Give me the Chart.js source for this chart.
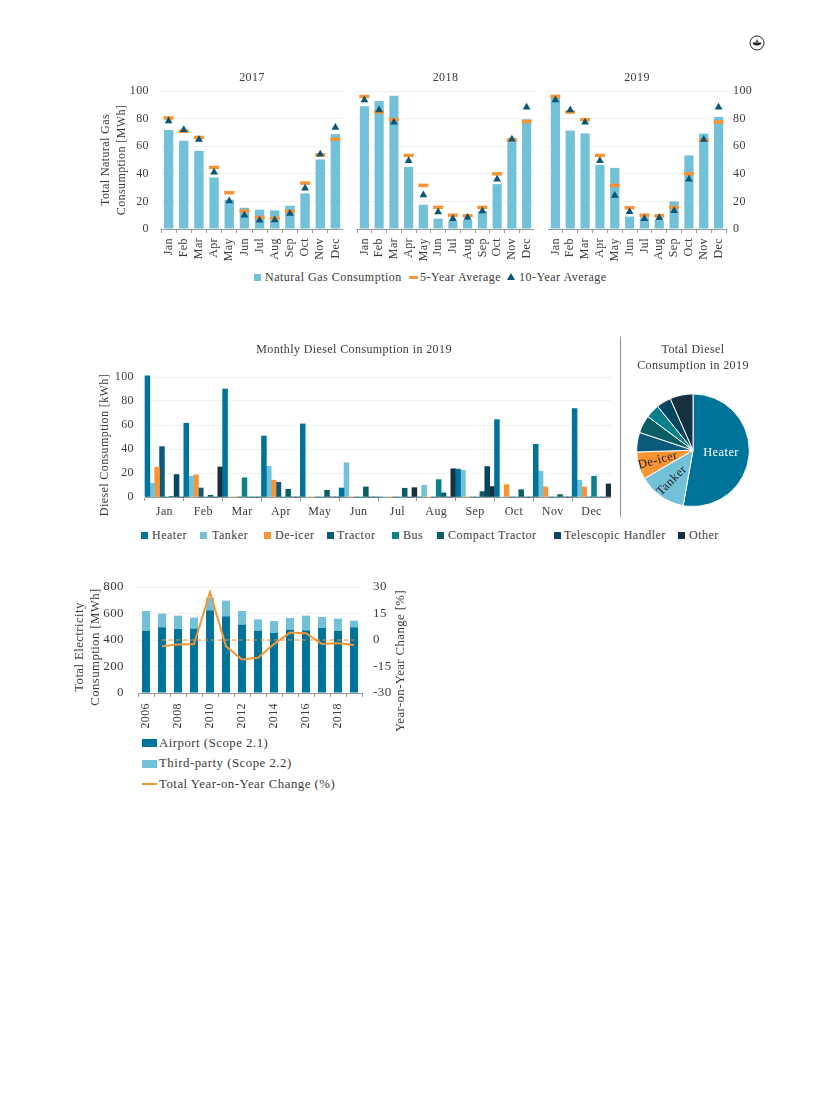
<!DOCTYPE html>
<html>
<head>
<meta charset="utf-8">
<title>Energy consumption charts</title>
<script src="https://cdn.jsdelivr.net/npm/chart.js@4"></script>
<style>
body { margin: 0; background: #fff; }
#page { position: relative; width: 825px; height: 1100px; overflow: hidden;
  font-family: "Liberation Serif", serif; color: #3a3a3a; letter-spacing: .5px; }
canvas { position: absolute; }
.t { position: absolute; white-space: nowrap; font-size: 12px; line-height: 14px; }
.swatch { position: absolute; }
#divider { position: absolute; left: 620px; top: 337px; width: 1px; height: 180px; background: #8f8f8f; }
#logo { position: absolute; left: 749px; top: 35px; }
</style>
</head>
<body>
<div id="page">
  <svg id="logo" width="16" height="16" viewBox="0 0 16 16">
    <circle cx="8" cy="8" r="7" fill="none" stroke="#222" stroke-width="1"/>
    <path d="M3.5 7.5h9c-.4 2.2-2 3-4.5 3s-4.100-.8-4.500-3z" fill="#222"/>
    <path d="M8 4.500v3M6.500 7l1.500-1.500 1.500 1.500" stroke="#222" stroke-width=".8" fill="none"/>
  </svg>
  <canvas id="gas2017" width="248" height="191" style="left:95px;top:71px"></canvas>
  <canvas id="gas2018" width="177" height="191" style="left:357px;top:71px"></canvas>
  <canvas id="gas2019" width="222" height="191" style="left:548px;top:71px"></canvas>
  <canvas id="dieselBars" width="514" height="178" style="left:97px;top:343px"></canvas>
  <div id="divider"></div>
  <canvas id="dieselPie" width="144" height="165" style="left:621px;top:342px"></canvas>
  <canvas id="electricity" width="345" height="160" style="left:65px;top:574px"></canvas>
</div>
<script>
const months = ['Jan','Feb','Mar','Apr','May','Jun','Jul','Aug','Sep','Oct','Nov','Dec'];

const gas2017 = [71.8,63.9,56.6,37.3,21.2,15.4,14,13.5,16.9,25.8,50.4,68.7];
const avg5y2017 = [80.5,70.8,66.3,44.6,26.3,13,8.4,7.7,12.8,33.3,53.7,65];
const avg10y2017 = [78.3,72,64.8,41.2,20.2,10,6.3,6.5,11.3,29.6,54.2,73.5];

const gas2018 = [89,92.8,96.6,45,17.6,7.5,5.8,6.7,12.8,32.5,64.6,79.5];
const avg5y2018 = [96,84.8,79.3,53.3,31.6,15.7,10,9.6,15.7,40,64.6,77.8];
const avg10y2018 = [93.5,86.3,77.3,49.4,24.6,12.3,7.5,8.4,13,36,65,88.2];

const gas2019 = [96,71.3,69.2,46.5,44.3,9,8.4,6.5,20,53.3,69.2,81.2];
const avg5y2019 = [96.1,84.8,79.3,53.3,31.6,15.4,10,9.6,15.7,40,64.3,77.6];
const avg10y2019 = [93.5,86.3,77.3,49.4,24.3,12.5,7.5,8.2,13.3,36,64.8,88.2];

const heater = [101,61.5,90,50.8,60.9,7.5,0,0,23.2,64.5,43.9,73.7];
const tanker = [11.5,17.3,0,25.7,0,28.5,0,9.8,22.3,0,21.5,14];
const deicer = [24.9,18.4,0,14,0,0,0,0,0,10.3,8.4,8.4];
const tractor = [42,7.5,0,12.3,0,0,0,0,0,0,0,0];
const bus = [0,0,16,0,0,0,0,14.5,0,0,0,17.3];
const compactTractor = [0.5,1.4,0,6.4,5.6,8.4,7.3,3.4,4.5,6.1,2,0];
const telescopicHandler = [18.7,0,0,0,0,0,0,0,25.4,0,0,0];
const otherDiesel = [0,25,0,0,0,0,7.8,23.5,8.7,0,0,10.9];

const pieLabels = ['Heater','Tanker','De-icer','Tractor','Compact Tractor','Bus','Telescopic Handler','Other'];
const pieShares = [52.8,13.8,7.9,5.6,5.1,4,4.2,6.6];

const years = ['2006','2007','2008','2009','2010','2011','2012','2013','2014','2015','2016','2017','2018','2019'];
const airport = [470,496,483,486,624,579,516,470,453,478,473,491,468,496];
const thirdParty = [149,103,101,83,96,118,103,86,90,88,111,83,93,50];
const yoyChange = [null,-3.6,-2.5,-2.3,27,-3.6,-11,-10,-2.3,4.2,3.8,-2.3,-1.9,-2.8];
const yoyZero = [null,0,0,0,0,0,0,0,0,0,0,0,0,0];

const BLUE = '#00739a', LIGHT = '#73c1d8', ORANGE = '#f79433', TRACTOR = '#0b5a7c',
  BUS = '#0a8088', COMPACT = '#075f65', TELE = '#04465f', OTHER = '#17303f', TRIANGLE = '#0b5677';
const FONT = 'Liberation Serif';
const TEXT = '#3a3a3a';

Chart.defaults.font.family = FONT;
Chart.defaults.font.size = 12;
Chart.defaults.color = TEXT;
Chart.defaults.animation = false;
Chart.defaults.responsive = false;
Chart.defaults.layout.autoPadding = false;
Chart.defaults.plugins.legend.display = false;
Chart.defaults.plugins.tooltip.enabled = false;

// computer modern runs wider than the installed serif
Chart.register({ id: 'spacing', beforeDraw(c) { c.ctx.letterSpacing = '0.4px'; } });

// keeps the plot area where the reference has it
function fixSize(prop, size) {
  return function (s) {
    s[prop] = size;
    s.paddingTop = s.paddingBottom = s.paddingLeft = s.paddingRight = 0;
  };
}

function xAxis(height, rotate, pad) {
  return {
    afterFit: fixSize('height', height),
    grid: { offset: true, drawOnChartArea: false, tickLength: 4, color: '#9a9a9a' },
    border: { color: '#9a9a9a' },
    ticks: { autoSkip: false, padding: pad, minRotation: rotate, maxRotation: rotate }
  };
}

// axis titles here are centred on the whole figure, not on the axis, and always
// read upwards, which scale titles can't do
function sideTitles(items) {
  return {
    id: 'sideTitles',
    afterDraw(chart) {
      const ctx = chart.ctx;
      items.forEach(function (it) {
        ctx.save();
        ctx.translate(it.x, it.y);
        ctx.rotate(-Math.PI / 2);
        ctx.font = it.size + 'px "' + FONT + '"';
        ctx.fillStyle = TEXT;
        ctx.textAlign = 'center';
        ctx.textBaseline = 'middle';
        ctx.fillText(it.text, 0, 0);
        ctx.restore();
      });
    }
  };
}

function gasPanel(id, year, bars, avg5, avg10, side) {
  const y = {
    min: 0, max: 100,
    position: side === 'right' ? 'right' : 'left',
    afterFit: fixSize('width', side === 'left' ? 66 : side === 'right' ? 44 : 0),
    grid: { color: '#f0f0f0', drawTicks: false },
    border: { display: false },
    ticks: { stepSize: 20, padding: 7, display: side !== 'none' }
  };
  if (side === 'left') {
    y.title = { display: true, text: ['Total Natural Gas', 'Consumption [MWh]'], padding: { top: 3, bottom: 0 }, font: { lineHeight: 1.35 } };
    y.ticks.padding = 12;
  }
  new Chart(document.getElementById(id), {
    type: 'bar',
    data: {
      labels: months,
      datasets: [
        { type: 'line', label: '10-Year Average', data: avg10, showLine: false, order: 0, clip: false,
          pointStyle: 'triangle', pointRadius: 4.5, backgroundColor: TRIANGLE, borderColor: TRIANGLE, pointBorderWidth: 0 },
        { type: 'line', label: '5-Year Average', data: avg5, showLine: false, order: 1, clip: false,
          pointStyle: 'line', pointRadius: 5, borderColor: ORANGE, pointBorderColor: ORANGE, pointBorderWidth: 3.5 },
        { label: 'Natural Gas Consumption', data: bars, order: 2, backgroundColor: LIGHT,
          barPercentage: 0.62, categoryPercentage: 1 }
      ]
    },
    options: {
      plugins: { title: { display: true, text: year, fullSize: false, padding: { top: 0, bottom: 5.6 }, font: { weight: 'normal', size: 12 } } },
      scales: { x: xAxis(33, 90, 5), y: y }
    }
  });
}

gasPanel('gas2017', '2017', gas2017, avg5y2017, avg10y2017, 'left');
gasPanel('gas2018', '2018', gas2018, avg5y2018, avg10y2018, 'none');
gasPanel('gas2019', '2019', gas2019, avg5y2019, avg10y2019, 'right');

function dieselSet(label, values, color) {
  return { label: label, data: values, backgroundColor: color, barPercentage: 1, categoryPercentage: 1, clip: false };
}

new Chart(document.getElementById('dieselBars'), {
  type: 'bar',
  data: {
    labels: months,
    datasets: [
      dieselSet('Heater', heater, BLUE),
      dieselSet('Tanker', tanker, LIGHT),
      dieselSet('De-icer', deicer, ORANGE),
      dieselSet('Tractor', tractor, TRACTOR),
      dieselSet('Bus', bus, BUS),
      dieselSet('Compact Tractor', compactTractor, COMPACT),
      dieselSet('Telescopic Handler', telescopicHandler, TELE),
      dieselSet('Other', otherDiesel, OTHER)
    ]
  },
  options: {
    plugins: { title: { display: true, text: 'Monthly Diesel Consumption in 2019', padding: { top: 0, bottom: 19.6 }, font: { weight: 'normal', size: 12 } } },
    scales: {
      x: xAxis(24, 0, 4),
      y: {
        min: 0, max: 100,
        afterFit: fixSize('width', 48),
        grid: { color: '#f0f0f0', drawTicks: false },
        border: { display: false },
        ticks: { stepSize: 20, padding: 11 }
      }
    }
  },
  plugins: [sideTitles([{ text: 'Diesel Consumption [kWh]', x: 8, y: 102, size: 12 }])]
});

// only the three big slices carry a label, turned the way the reference has them
const sliceText = {
  Heater: { r: 0.5, angle: 0, color: '#ffffff' },
  Tanker: { r: 0.66, angle: -45, color: '#222222' },
  'De-icer': { r: 0.65, angle: -15, color: '#222222' }
};
const pieText = {
  id: 'pieText',
  afterDatasetsDraw(chart) {
    const ctx = chart.ctx;
    chart.getDatasetMeta(0).data.forEach(function (arc, i) {
      const spec = sliceText[pieLabels[i]];
      if (!spec) return;
      const mid = (arc.startAngle + arc.endAngle) / 2;
      ctx.save();
      ctx.translate(arc.x + Math.cos(mid) * arc.outerRadius * spec.r, arc.y + Math.sin(mid) * arc.outerRadius * spec.r);
      ctx.rotate(spec.angle * Math.PI / 180);
      ctx.font = '12.5px "' + FONT + '"';
      ctx.fillStyle = spec.color;
      ctx.textAlign = 'center';
      ctx.textBaseline = 'middle';
      ctx.fillText(pieLabels[i], 0, 0);
      ctx.restore();
    });
  }
};

new Chart(document.getElementById('dieselPie'), {
  type: 'pie',
  data: {
    labels: pieLabels,
    datasets: [{ data: pieShares, backgroundColor: [BLUE, LIGHT, ORANGE, TRACTOR, COMPACT, BUS, TELE, OTHER], borderColor: '#ffffff', borderWidth: 1 }]
  },
  options: {
    plugins: { title: { display: true, text: ['Total Diesel', 'Consumption in 2019'], padding: { top: 0, bottom: 19 }, font: { weight: 'normal', size: 12, lineHeight: 1.35 } } }
  },
  plugins: [pieText]
});

// x labels skip every other year
const electricityX = xAxis(41, 90, 6);
electricityX.stacked = true;
electricityX.ticks.callback = function (v, i) { return i % 2 ? '' : years[i]; };

new Chart(document.getElementById('electricity'), {
  type: 'bar',
  data: {
    labels: years,
    datasets: [
      { type: 'line', label: 'Total Year-on-Year Change (%)', data: yoyChange, yAxisID: 'yoy', order: 0, borderColor: ORANGE, borderWidth: 2, pointRadius: 0, clip: false },
      { type: 'line', label: 'Zero', data: yoyZero, yAxisID: 'yoy', order: 1, borderColor: ORANGE, borderWidth: 1.2, borderDash: [4, 3], pointRadius: 0 },
      { label: 'Airport (Scope 2.1)', data: airport, yAxisID: 'y', stack: 'total', order: 2, backgroundColor: BLUE, barPercentage: 0.5, categoryPercentage: 1 },
      { label: 'Third-party (Scope 2.2)', data: thirdParty, yAxisID: 'y', stack: 'total', order: 3, backgroundColor: LIGHT, barPercentage: 0.5, categoryPercentage: 1 }
    ]
  },
  options: {
    layout: { padding: { top: 13 } },
    scales: {
      x: electricityX,
      y: {
        min: 0, max: 800, stacked: true,
        afterFit: fixSize('width', 73),
        grid: { color: '#f0f0f0', drawTicks: false },
        border: { display: false },
        ticks: { stepSize: 200, padding: 14, font: { size: 13 } }
      },
      yoy: {
        min: -30, max: 30, position: 'right',
        afterFit: fixSize('width', 48),
        grid: { display: false, drawTicks: false },
        border: { display: false },
        ticks: { stepSize: 15, padding: 11, font: { size: 13 } }
      }
    }
  },
  plugins: [sideTitles([
    { text: 'Total Electricity', x: 15, y: 73, size: 12.8 },
    { text: 'Consumption [MWh]', x: 31, y: 73, size: 12.8 },
    { text: 'Year-on-Year Change [%]', x: 336, y: 87, size: 12.8 }
  ])]
});

// legends sit across several canvases so they are laid out by hand
const page = document.getElementById('page');
function addBox(x, y, w, h, color, radius) {
  const d = document.createElement('div');
  d.className = 'swatch';
  d.style.cssText = 'left:' + x + 'px;top:' + y + 'px;width:' + w + 'px;height:' + h + 'px;background:' + color + ';border-radius:' + (radius || 0) + 'px';
  page.appendChild(d);
}
function addText(x, y, text, size) {
  const d = document.createElement('div');
  d.className = 't';
  d.textContent = text;
  d.style.left = x + 'px';
  d.style.top = (y - 7) + 'px';
  if (size) d.style.fontSize = size + 'px';
  page.appendChild(d);
}

addBox(254, 274, 7, 7, LIGHT);
addText(265, 277, 'Natural Gas Consumption');
addBox(409, 275.5, 9, 3.5, ORANGE, 1);
addText(420, 277, '5-Year Average');
const tri = document.createElement('div');
tri.className = 'swatch';
tri.style.cssText = 'left:507px;top:273px;width:0;height:0;border-left:4px solid transparent;border-right:4px solid transparent;border-bottom:7px solid ' + TRIANGLE;
page.appendChild(tri);
addText(519, 277, '10-Year Average');

const dieselLegend = [
  ['Heater', BLUE, 141, 152], ['Tanker', LIGHT, 200, 212], ['De-icer', ORANGE, 264, 275], ['Tractor', TRACTOR, 327, 337],
  ['Bus', BUS, 392, 403], ['Compact Tractor', COMPACT, 437, 448], ['Telescopic Handler', TELE, 554, 564], ['Other', OTHER, 678, 689]
];
dieselLegend.forEach(function (e) {
  addBox(e[2], 532, 7, 7, e[1]);
  addText(e[3], 535, e[0]);
});

addBox(142, 739, 15, 8, BLUE);
addText(159, 743, 'Airport (Scope 2.1)', 12.8);
addBox(142, 760, 15, 8, LIGHT);
addText(159, 763, 'Third-party (Scope 2.2)', 12.8);
addBox(142, 783, 15, 2, ORANGE);
addText(159, 784, 'Total Year-on-Year Change (%)', 12.8);
</script>
</body>
</html>
